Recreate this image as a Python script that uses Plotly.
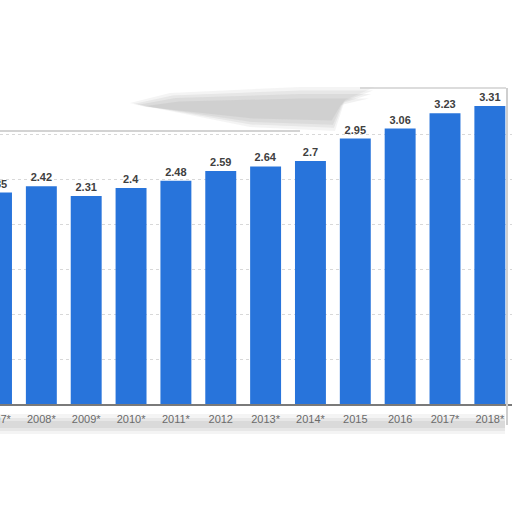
import plotly.graph_objects as go

categories = ["2007*", "2008*", "2009*", "2010*", "2011*", "2012", "2013*", "2014*",
              "2015", "2016", "2017*", "2018*"]
values = [2.35, 2.42, 2.31, 2.4, 2.48, 2.59, 2.64, 2.7, 2.95, 3.06, 3.23, 3.31]
value_labels = ["2.35", "2.42", "2.31", "2.4", "2.48", "2.59", "2.64", "2.7",
                "2.95", "3.06", "3.23", "3.31"]
grid_values = [0.5, 1.0, 1.5, 2.0, 2.5, 3.0]

SHIFT = 18          # figure is shifted left so the first bar is cut by the window
W, H = 512 + SHIFT, 512
TOP, BOT = 80, 404  # plot area pixel bounds
YMAX = (BOT - TOP) / 90.0
STEP = 44.85
FONT = "Liberation Sans, Arial"


def P(px, py):
    return (px + SHIFT) / W, (BOT - py) / (BOT - TOP)


def path(points):
    s = ""
    for i, (px, py) in enumerate(points):
        x, y = P(px, py)
        s += ("M" if i == 0 else "L") + f"{x:.4f},{y:.4f} "
    return s + "Z"


idx = list(range(len(categories)))
fig = go.Figure()
fig.add_trace(go.Bar(
    x=idx, y=values, text=["<b>%s</b>" % t for t in value_labels], textposition="outside",
    textfont=dict(family=FONT, size=11, color="#404040"),
    marker=dict(color="#2874db", line=dict(width=0)),
    cliponaxis=False, width=0.69,
))

shapes = []
# top curled-edge shadow (layered for blur)
for scale, op in [(1.0, 0.08), (0.85, 0.10), (0.7, 0.10), (0.5, 0.10)]:
    cx, cy = 290, 110
    pts = [(130, 103), (170, 93), (300, 87), (375, 87), (345, 100), (335, 131),
           (250, 127), (180, 113)]
    pts = [(cx + (x - cx) * (0.85 + 0.15 * scale), cy + (y - cy) * scale) for x, y in pts]
    shapes.append(dict(type="path", path=path(pts), xref="paper", yref="paper",
                       fillcolor=f"rgba(120,120,120,{op})", line=dict(width=0), layer="above"))
# top border of the card
x0, y0 = P(-SHIFT, 131); x1, y1 = P(300, 131)
shapes.append(dict(type="line", x0=x0, y0=y0, x1=x1, y1=y1, xref="paper", yref="paper",
                   line=dict(color="#c4c4c4", width=1.5)))
x0, y0 = P(360, 88); x1, y1 = P(506, 88)
shapes.append(dict(type="line", x0=x0, y0=y0, x1=x1, y1=y1, xref="paper", yref="paper",
                   line=dict(color="#d0d0d0", width=1.5)))
# right edge
x0, y0 = P(507, 88); x1, y1 = P(507, 425)
shapes.append(dict(type="line", x0=x0, y0=y0, x1=x1, y1=y1, xref="paper", yref="paper",
                   line=dict(color="#cfcfcf", width=2), layer="above"))
# bottom shadow under tick labels
for (ya, yb, op) in [(414, 434, 0.08), (418, 431, 0.10), (421, 428, 0.12)]:
    x0, y0 = P(-SHIFT, yb); x1, y1 = P(505, ya)
    shapes.append(dict(type="rect", x0=x0, y0=y0, x1=x1, y1=y1, xref="paper", yref="paper",
                       fillcolor=f"rgba(120,120,120,{op})", line=dict(width=0), layer="below"))

x_start = -(SHIFT - 3.5) / STEP
fig.update_layout(
    width=W, height=H,
    margin=dict(l=0, r=0, t=TOP, b=H - BOT, pad=0),
    paper_bgcolor="white", plot_bgcolor="white",
    showlegend=False, bargap=0.31,
    shapes=shapes,
    xaxis=dict(range=[x_start, x_start + W / STEP], tickvals=idx,
               ticktext=categories, showgrid=False, zeroline=False,
               showline=True, linecolor="#7a7a7a", linewidth=2,
               tickfont=dict(family=FONT, size=11, color="#6a6a6a"),
               ticks="", ticklabelstandoff=4),
    yaxis=dict(range=[0, YMAX], tickvals=grid_values, showticklabels=False,
               showgrid=True, gridcolor="#d8d8d8", griddash="dot", gridwidth=1,
               zeroline=False, showline=False),
)
fig.write_html(
    "out.html",
    config={"displayModeBar": False, "staticPlot": True},
    post_script=("document.body.style.margin='0';document.body.style.overflow='hidden';"
                 "document.getElementById('{plot_id}').style.marginLeft='-%dpx';" % SHIFT),
)
